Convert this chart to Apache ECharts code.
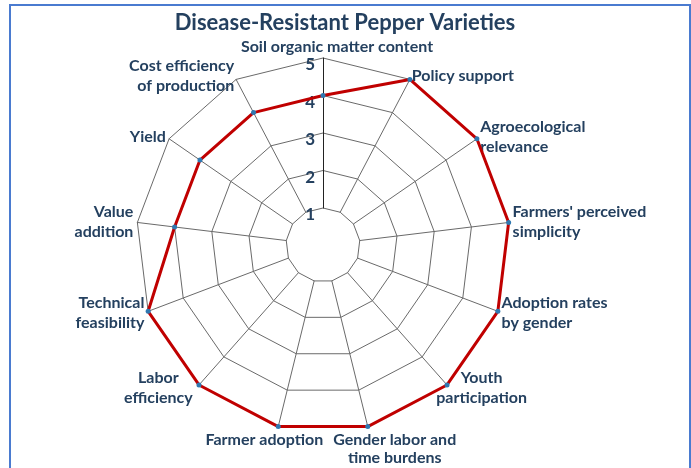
<!DOCTYPE html>
<html>
<head>
<meta charset="utf-8">
<script src="https://cdn.jsdelivr.net/npm/echarts@6/dist/echarts.min.js"></script>
<style>
  html, body { margin: 0; padding: 0; background: #fff; }
  #radarChart { width: 691px; height: 468px; }
</style>
</head>
<body>
<div id="radarChart"></div>
<script>
// criteria, clockwise from the top
var criteria = [
  'Soil organic matter content',
  'Policy support',
  'Agroecological\nrelevance',
  "Farmers' perceived\nsimplicity",
  'Adoption rates\nby gender',
  'Youth\nparticipation',
  'Gender labor and\ntime burdens',
  'Farmer adoption',
  'Labor\nefficiency',
  'Technical\nfeasibility',
  'Value\naddition',
  'Yield',
  'Cost efficiency\nof production'
];
var scores = [4, 5, 5, 5, 5, 5, 5, 5, 5, 5, 4, 4, 4];
var scaleMin = 1;
var scaleMax = 5;

var textColor = '#24405f';

// a few names sit below / beside their point like in the excel original
var nameTweaks = {
  0: { align: 'center', verticalAlign: 'bottom', lineHeight: 14, padding: [0, 0, 0, 28] },
  5: { align: 'center', verticalAlign: 'middle', padding: [8, 0, 0, 64] },
  6: { align: 'center', verticalAlign: 'top', lineHeight: 18, padding: [0, 0, 0, 52] },
  7: { align: 'center', verticalAlign: 'top', lineHeight: 18, padding: [0, 26, 0, 0] },
  8: { align: 'center', verticalAlign: 'middle', padding: [8, 76, 0, 0] }
};

// echarts lays radar axes out counter-clockwise, so keep the first one on top
// and reverse the rest to get the clockwise order of the original
var order = [0];
for (var k = criteria.length - 1; k > 0; k--) order.push(k);

var indicators = order.map(function (i) {
  var ind = { name: criteria[i], min: scaleMin, max: scaleMax };
  if (i === 0) {
    // only the vertical axis carries the 1..5 labels
    ind.axisLabel = { show: true };
    ind.axisLine = { lineStyle: { color: '#222', width: 1 } };
    ind.nameMoveOverlap = false;
  }
  if (nameTweaks[i]) ind.nameTextStyle = nameTweaks[i];
  return ind;
});
var values = order.map(function (i) { return scores[i]; });

var myChart = echarts.init(document.getElementById('radarChart'));
myChart.setOption({
  backgroundColor: '#fff',
  title: {
    text: 'Disease-Resistant Pepper Varieties',
    left: 340,
    top: 7,
    textAlign: 'center',
    textStyle: { fontFamily: 'Lato', fontSize: 22, fontWeight: 'bold', color: '#24405f' }
  },
  graphic: [{
    type: 'rect',
    shape: { x: 10, y: 5, width: 680, height: 480 },
    style: { fill: 'none', stroke: '#4a7bd0', lineWidth: 2 },
    silent: true
  }],
  radar: {
    center: [323, 245],
    radius: [37, 187],
    startAngle: 90,
    shape: 'polygon',
    splitNumber: 4,
    indicator: indicators,
    axisName: {
      color: textColor,
      fontFamily: 'Lato',
      fontWeight: 'bold',
      fontSize: 16,
      lineHeight: 20
    },
    nameGap: 4,
    axisLabel: {
      show: false,
      color: textColor,
      fontFamily: 'Lato',
      fontWeight: 'bold',
      fontSize: 17,
      verticalAlign: 'top',
      lineHeight: 14
    },
    axisTick: { show: false },
    axisLine: { lineStyle: { color: '#6a6a6a', width: 1 } },
    splitLine: { lineStyle: { color: '#6a6a6a', width: 1 } },
    splitArea: { show: false }
  },
  series: [{
    type: 'radar',
    symbol: 'circle',
    symbolSize: 5,
    itemStyle: { color: '#2f78b0' },
    lineStyle: { color: '#c00000', width: 3 },
    data: [{ value: values, name: 'Disease-Resistant Pepper Varieties' }]
  }]
});
</script>
</body>
</html>
